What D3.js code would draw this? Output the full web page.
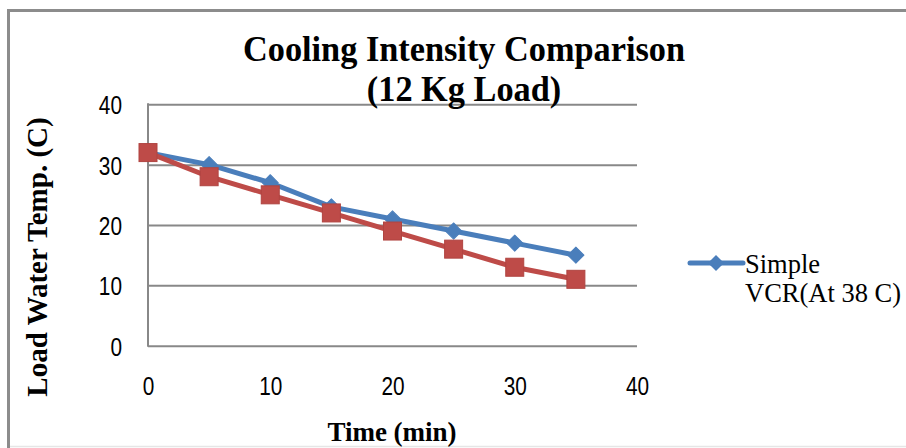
<!DOCTYPE html>
<html><head><meta charset="utf-8">
<script src="https://cdn.jsdelivr.net/npm/d3@7"></script>
<style>body{margin:0;background:#fff}svg{display:block}</style>
</head><body><svg id="c" width="906" height="448"></svg>
<script>
const times = [0, 5, 10, 15, 20, 25, 30, 35];
const simpleVCR = [32, 30, 27, 23, 21, 19, 17, 15];
const modifiedVCR = [32, 28, 25, 22, 19, 16, 13, 11];
const xTicks = [0, 10, 20, 30, 40];
const yTicks = [0, 10, 20, 30, 40];
const titleLines = ["Cooling Intensity Comparison", "(12 Kg Load)"];
const legendLines = ["Simple", "VCR(At 38 C)"];

const svg = d3.select("#c");
const x = d3.scaleLinear().domain([0, 40]).range([148, 637]);
const y = d3.scaleLinear().domain([0, 40]).range([345.7, 104.3]);
const blue = "#4A7EBB", red = "#BE4B48", grid = "#888";
const tickFont = "'Liberation Sans', Arial, sans-serif";
const serif = "'Liberation Serif', 'Times New Roman', serif";

// outer border
svg.append("line").attr("x1", 8.5).attr("x2", 8.5).attr("y1", 9).attr("y2", 448).attr("stroke", "#8c8c8c").attr("stroke-width", 3);
svg.append("line").attr("x1", 7).attr("x2", 906).attr("y1", 10.5).attr("y2", 10.5).attr("stroke", "#8c8c8c").attr("stroke-width", 3);
svg.append("line").attr("x1", 10).attr("x2", 906).attr("y1", 446.5).attr("y2", 446.5).attr("stroke", "#e6e6e6").attr("stroke-width", 1.5);

// gridlines
const gy = d3.axisLeft(y).tickValues(yTicks).tickSize(-(637 - 148)).tickFormat("");
const gg = svg.append("g").attr("transform", "translate(148,0)").call(gy);
gg.select(".domain").remove();
gg.selectAll("line").attr("stroke", grid).attr("stroke-width", 2);
svg.append("line").attr("x1", 148).attr("x2", 148).attr("y1", y(40) - 1).attr("y2", y(0) + 1).attr("stroke", grid).attr("stroke-width", 2);

// y tick labels
const ya = svg.append("g").attr("transform", "translate(122,0)").call(d3.axisLeft(y).tickValues(yTicks).tickSize(0).tickPadding(0));
ya.select(".domain").remove();
ya.selectAll(".tick text").attr("font-family", tickFont).attr("font-size", 26).attr("fill", "#000")
  .attr("x", 0).attr("dy", "0.36em").attr("transform", "scale(0.8,1)");

// x tick labels
const xa = svg.append("g").attr("transform", "translate(0,377)").call(d3.axisBottom(x).tickValues(xTicks).tickSize(0).tickPadding(0));
xa.select(".domain").remove();
xa.selectAll("text").attr("font-family", tickFont).attr("font-size", 26).attr("fill", "#000").attr("dy", "0.71em")
  .attr("transform", "scale(0.8,1)");

// lines
const line = d3.line().x((d, i) => x(times[i])).y(d => y(d));
svg.append("path").datum(simpleVCR).attr("d", line).attr("fill", "none").attr("stroke", blue).attr("stroke-width", 5).attr("stroke-linejoin", "round");
svg.append("path").datum(modifiedVCR).attr("d", line).attr("fill", "none").attr("stroke", red).attr("stroke-width", 5).attr("stroke-linejoin", "round");

svg.selectAll(".dm").data(simpleVCR).join("path")
  .attr("transform", (d, i) => `translate(${x(times[i])},${y(d)}) rotate(45)`)
  .attr("d", d3.symbol().type(d3.symbolSquare).size(130)).attr("fill", blue).attr("stroke", blue).attr("stroke-width", 1).attr("stroke-linejoin", "round");
svg.selectAll(".sq").data(modifiedVCR).join("rect")
  .attr("x", (d, i) => x(times[i]) - 9).attr("y", d => y(d) - 9).attr("width", 18).attr("height", 18)
  .attr("fill", red).attr("stroke", "#b04440").attr("stroke-width", 1);

// title
svg.append("g").selectAll("text").data(titleLines).join("text")
  .attr("transform", (d, i) => `translate(464,${61 + i * 40}) scale(0.98,1)`)
  .attr("text-anchor", "middle").attr("font-family", serif).attr("font-weight", "bold").attr("font-size", 35).text(d => d);

// axis titles
svg.append("text").attr("transform", "translate(392,441)").attr("text-anchor", "middle")
  .attr("font-family", serif).attr("font-weight", "bold").attr("font-size", 27).text("Time (min)");
svg.append("text").attr("transform", "translate(47,257) rotate(-90)").attr("text-anchor", "middle")
  .attr("font-family", serif).attr("font-weight", "bold").attr("font-size", 29).text("Load Water Temp. (C)");

// legend
svg.append("line").attr("x1", 690).attr("x2", 743).attr("y1", 263).attr("y2", 263).attr("stroke", blue).attr("stroke-width", 5).attr("stroke-linecap", "round");
svg.append("path").attr("transform", "translate(716,263) rotate(45)").attr("d", d3.symbol().type(d3.symbolSquare).size(130)).attr("fill", blue);
svg.append("g").selectAll("text").data(legendLines).join("text")
  .attr("x", 745).attr("y", (d, i) => 273 + i * 29).attr("font-family", serif).attr("font-size", 26.5).text(d => d);
</script></body></html>
